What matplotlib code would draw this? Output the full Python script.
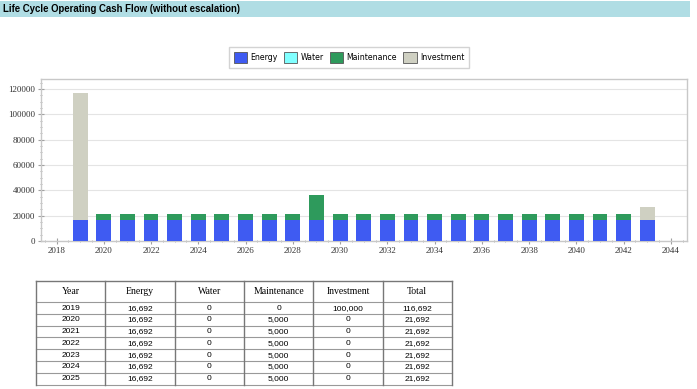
import matplotlib.pyplot as plt
from matplotlib.patches import Rectangle
from matplotlib.ticker import MultipleLocator

years = [2019, 2020, 2021, 2022, 2023, 2024, 2025, 2026, 2027, 2028, 2029, 2030, 2031,
         2032, 2033, 2034, 2035, 2036, 2037, 2038, 2039, 2040, 2041, 2042, 2043]
energy = [16692, 16692, 16692, 16692, 16692, 16692, 16692, 16692, 16692, 16692, 16692, 16692, 16692,
          16692, 16692, 16692, 16692, 16692, 16692, 16692, 16692, 16692, 16692, 16692, 16692]
water = [0, 0, 0, 0, 0, 0, 0, 0, 0, 0, 0, 0, 0,
         0, 0, 0, 0, 0, 0, 0, 0, 0, 0, 0, 0]
maintenance = [0, 5000, 5000, 5000, 5000, 5000, 5000, 5000, 5000, 5000, 20000, 5000, 5000,
               5000, 5000, 5000, 5000, 5000, 5000, 5000, 5000, 5000, 5000, 5000, 0]
investment = [100000, 0, 0, 0, 0, 0, 0, 0, 0, 0, 0, 0, 0,
              0, 0, 0, 0, 0, 0, 0, 0, 0, 0, 0, 10000]

series_names = ['Energy', 'Water', 'Maintenance', 'Investment']
series_colors = ['#3f5bf2', '#80ffff', '#2e9a5c', '#cfd0c2']
table_header = ['Year', 'Energy', 'Water', 'Maintenance', 'Investment', 'Total']
table_rows = 7

W, H = 697, 389


def px_rect(x0, y0, x1, y1):
    # pixel box (top-left origin) -> figure fraction [l, b, w, h]
    return [x0 / W, 1 - y1 / H, (x1 - x0) / W, (y1 - y0) / H]


def main():
    fig = plt.figure(figsize=(W / 100, H / 100), dpi=100)

    # title band
    fig.patches.append(Rectangle((0, 1 - 16.5 / H), 690 / W, 15 / H, transform=fig.transFigure,
                                 facecolor='#b0dde4', edgecolor='none'))
    fig.text(3 / W, 1 - 9.5 / H, 'Life Cycle Operating Cash Flow (without escalation)',
             family='Liberation Sans', weight='bold', fontsize=6.9, va='center', ha='left')

    # stacked bars
    ax = fig.add_axes(px_rect(40.7, 78.5, 686.7, 241))
    bottom = [0] * len(years)
    for name, vals, col in zip(series_names, [energy, water, maintenance, investment], series_colors):
        ax.bar(years, vals, width=0.63, bottom=bottom, color=col, label=name, zorder=3)
        bottom = [a + v for a, v in zip(bottom, vals)]

    ax.set_xlim(2017.33, 2044.67)
    ax.set_ylim(0, max(bottom) * 1.1)
    ax.xaxis.set_major_locator(MultipleLocator(2))
    ax.xaxis.set_minor_locator(MultipleLocator(0.5))
    ax.yaxis.set_major_locator(MultipleLocator(20000))
    ax.yaxis.set_minor_locator(MultipleLocator(5000))
    ax.grid(axis='y', which='major', color='#e4e4e4', linewidth=0.8, zorder=0)
    for s in ax.spines.values():
        s.set_color('#c8c8c8')
        s.set_linewidth(1.0)
    ax.tick_params(which='both', direction='inout', color='#a0a0a0', labelsize=6.5,
                   labelcolor='#333333', pad=2)
    ax.tick_params(which='major', length=4)
    ax.tick_params(which='minor', length=2)
    for lab in ax.get_xticklabels() + ax.get_yticklabels():
        lab.set_family('Liberation Serif')

    leg = fig.legend([plt.Rectangle((0, 0), 1, 1, facecolor=c, edgecolor='#555555', linewidth=0.6)
                      for c in series_colors], series_names,
                     loc='center', bbox_to_anchor=(349 / W, 1 - 57.5 / H), ncol=4, frameon=True,
                     fancybox=False, prop={'family': 'DejaVu Sans', 'size': 5.6},
                     handlelength=1.7, handleheight=1.9, handletextpad=0.45, columnspacing=0.8,
                     borderpad=0.55, borderaxespad=0)
    leg.get_frame().set_edgecolor('#c8c8c8')
    leg.get_frame().set_linewidth(1.0)

    # table
    tax = fig.add_axes(px_rect(36, 281, 452, 384.5))
    hh = 1.8
    tax.set_xlim(0, 6)
    tax.set_ylim(hh + table_rows, 0)
    tax.axis('off')
    for j, h in enumerate(table_header):
        tax.text(j + 0.5, hh / 2, h, ha='center', va='center', family='Liberation Serif', fontsize=7)
    for i in range(table_rows):
        total = energy[i] + water[i] + maintenance[i] + investment[i]
        cells = [str(years[i]), f'{energy[i]:,}', f'{water[i]:,}', f'{maintenance[i]:,}',
                 f'{investment[i]:,}', f'{total:,}']
        for j, c in enumerate(cells):
            tax.text(j + 0.5, hh + i + 0.5, c, ha='center', va='center', family='Liberation Sans',
                     fontsize=6)
    for i in range(table_rows + 1):
        tax.plot([0, 6], [hh + i, hh + i], color='#999999', linewidth=0.8, clip_on=False)
    for j in range(7):
        tax.plot([j, j], [0, hh + table_rows], color='#777777', linewidth=1.0, clip_on=False)
    tax.plot([0, 6], [0, 0], color='#777777', linewidth=1.0, clip_on=False)

    fig.savefig('out.png', dpi=100)


if __name__ == '__main__':
    main()
